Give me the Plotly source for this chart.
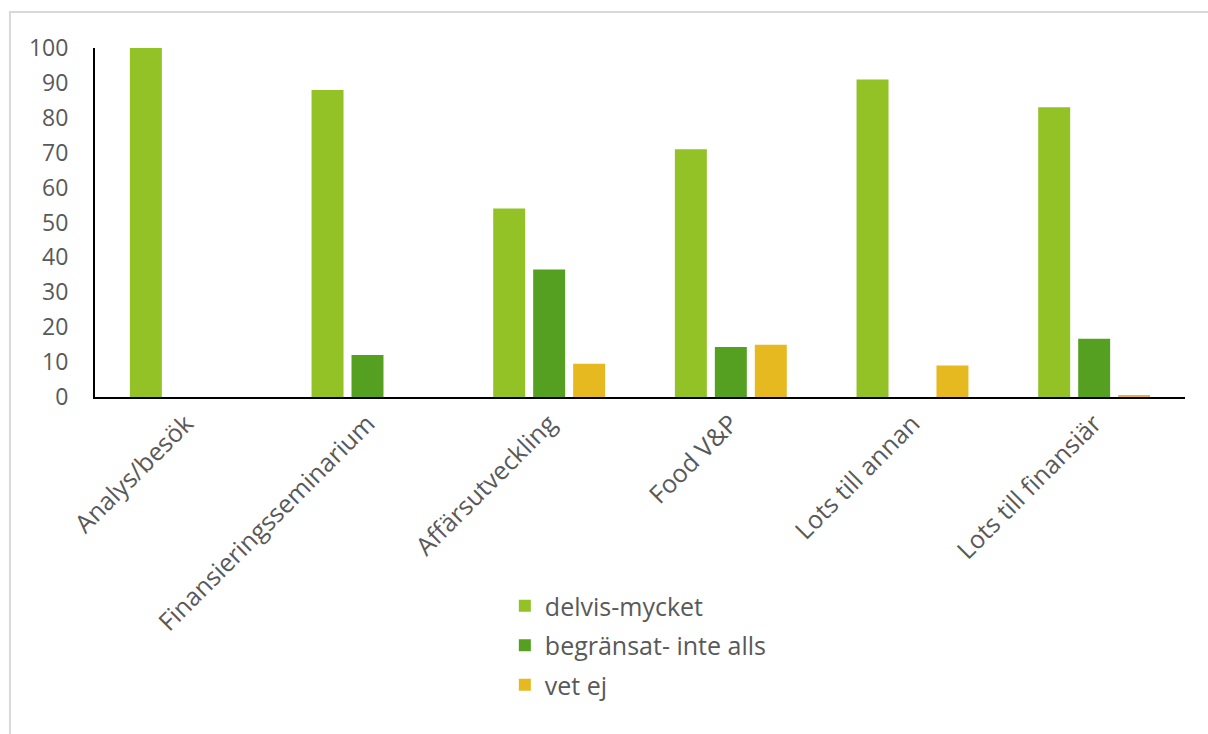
import plotly.graph_objects as go

categories = ["Analys/besök", "Finansieringsseminarium", "Affärsutveckling", "Food V&P", "Lots till annan", "Lots till finansiär"]
delvis_mycket = [100, 88, 54, 71, 91, 83]
begransat = [0, 12, 36.5, 14.3, 0, 16.7]
vet_ej = [0, 0, 9.5, 15, 9, 0.3]
series_names = ["delvis-mycket", "begränsat- inte alls", "vet ej"]
colors = ["#92C226", "#55A021", "#E6B920"]
y_ticks = [0, 10, 20, 30, 40, 50, 60, 70, 80, 90, 100]

fig = go.Figure()
for i, (name, vals, col) in enumerate(zip(series_names, [delvis_mycket, begransat, vet_ej], colors)):
    fig.add_trace(go.Bar(x=categories, y=vals, name=name, legendgroup=f"g{i}",
                         marker=dict(color=col, line=dict(width=0))))

font_family = "Open Sans, Noto Sans, sans-serif"
fig.update_layout(
    width=1208, height=734,
    margin=dict(l=95, r=23, t=48, b=337),
    paper_bgcolor="white", plot_bgcolor="white",
    barmode="group", bargap=0.34, bargroupgap=0.2,
    font=dict(family=font_family, size=23, color="#595959"),
    showlegend=True,
    legend=dict(orientation="v", x=0.376, y=-0.533, xanchor="left", yanchor="top",
                font=dict(size=25, color="#595959"), traceorder="grouped",
                itemwidth=30, tracegroupgap=4),
    xaxis=dict(showline=True, linecolor="black", linewidth=2, tickangle=-45,
               tickfont=dict(size=25, color="#595959"), ticks="", showgrid=False),
    yaxis=dict(range=[0, 100], tickvals=y_ticks, showline=True, linecolor="black", linewidth=2,
               showgrid=False, zeroline=False, ticks="", ticklen=0, ticklabelstandoff=20,
               tickfont=dict(size=23, color="#595959")),
    shapes=[dict(type="rect", xref="paper", yref="paper", x0=-0.078, x1=1.03, y0=-1.05, y1=1.103,
                 line=dict(color="#D9D9D9", width=2), fillcolor="rgba(0,0,0,0)", layer="below")],
)

fig.write_html("out.html")
